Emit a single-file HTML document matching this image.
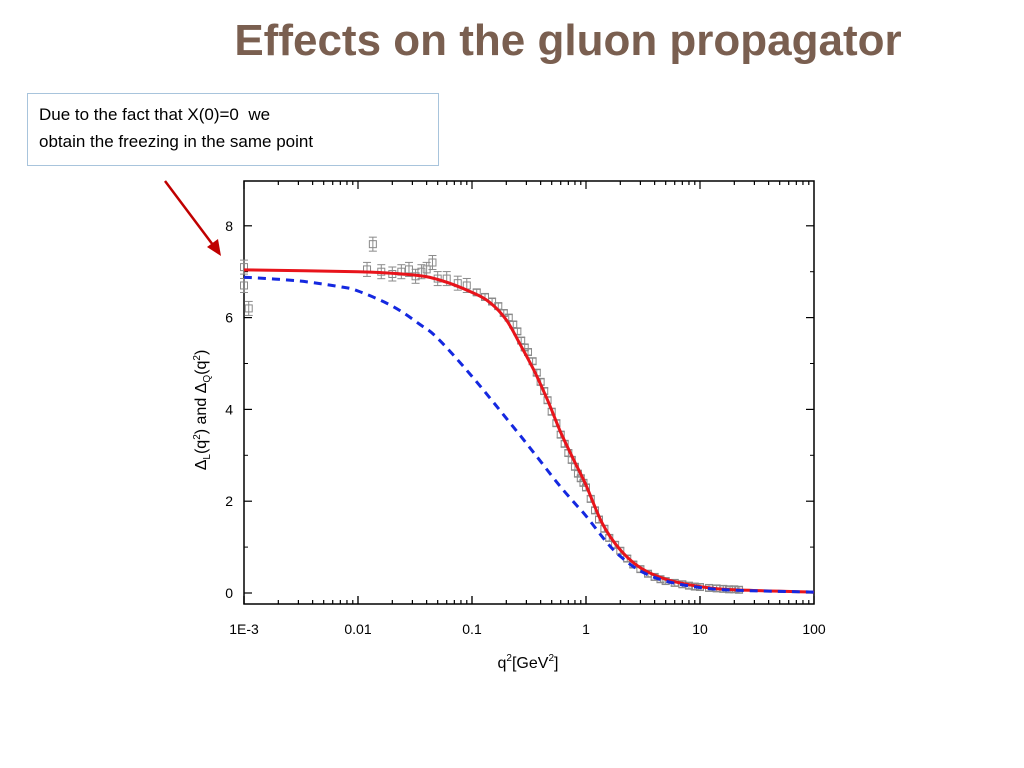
<!DOCTYPE html>
<html><head><meta charset="utf-8"><style>
body{margin:0;width:1024px;height:768px;background:#fff;position:relative;font-family:"Liberation Sans",sans-serif;overflow:hidden}
#title{position:absolute;left:0;width:1136px;top:16px;text-align:center;font-size:44px;font-weight:bold;color:#7a5f50}
#note{position:absolute;left:27px;top:93px;border:1px solid #a8c4dc;padding:7px 0 0 11px;font-size:17px;line-height:27px;color:#000;box-sizing:border-box;width:412px;height:73px}
</style></head><body>
<div id="title">Effects on the gluon propagator</div>
<div id="note">Due to the fact that X(0)=0&nbsp; we<br>obtain the freezing in the same point</div>
<svg id="chart" width="1024" height="768" style="position:absolute;left:0;top:0"></svg>
<script>
const redX=[0.001,0.01,0.03,0.052,0.1,0.145,0.2,0.26,0.35,0.46,0.6,0.78,1,1.4,2,3,5,10,20,100];
const redY=[7.04,7.0,6.93,6.82,6.55,6.32,5.95,5.45,4.85,4.2,3.5,2.9,2.35,1.5,0.94,0.55,0.3,0.14,0.07,0.02];
const blueX=[0.001,0.003,0.007,0.01,0.02,0.035,0.05,0.1,0.23,0.35,0.56,0.8,1,1.5,2,3,5,10,20,100];
const blueY=[6.88,6.8,6.67,6.58,6.25,5.85,5.55,4.72,3.62,3.05,2.4,1.95,1.68,1.12,0.8,0.48,0.26,0.12,0.06,0.02];
const dataX=[0.001,0.001,0.0011,0.012,0.0135,0.016,0.02,0.024,0.028,0.032,0.036,0.04,0.045,0.05,0.06,0.075,0.09,0.11,0.13,0.15,0.17,0.19,0.21,0.23,0.25,0.27,0.29,0.31,0.34,0.37,0.4,0.43,0.46,0.5,0.55,0.6,0.65,0.7,0.75,0.8,0.85,0.9,0.95,1,1.1,1.2,1.3,1.45,1.6,1.8,2,2.3,2.6,3,3.5,4,4.5,5,6,7,8,9,10,12,14,16,18,20,22];
const dataY=[7.1,6.7,6.2,7.05,7.6,7.0,6.95,7.0,7.05,6.9,7.0,7.05,7.2,6.85,6.85,6.75,6.7,6.55,6.45,6.35,6.25,6.1,6.0,5.85,5.7,5.5,5.35,5.25,5.05,4.8,4.6,4.4,4.2,3.95,3.7,3.45,3.25,3.05,2.9,2.75,2.6,2.5,2.4,2.3,2.05,1.8,1.6,1.4,1.2,1.05,0.92,0.75,0.62,0.52,0.42,0.35,0.3,0.26,0.22,0.19,0.16,0.14,0.13,0.11,0.1,0.09,0.08,0.08,0.07];
const xTicks=[0.001,0.01,0.1,1,10,100];
const xTickLabels=["1E-3","0.01","0.1","1","10","100"];
const yTicks=[0,2,4,6,8];

const L=244,R=814,T=181,B=604;
const sx=v=>L+(Math.log10(v)+3)/5*(R-L);
const sy=v=>593-v*45.9;
const svg=document.getElementById('chart');
const NS='http://www.w3.org/2000/svg';
function mk(t,a){const e=document.createElementNS(NS,t);for(const k in a)e.setAttribute(k,a[k]);svg.appendChild(e);return e;}
let e=mk('rect',{x:L,y:T,width:R-L,height:B-T,fill:'none',stroke:'#000','stroke-width':1.5});


for(let d=-3;d<2;d++){for(let m=1;m<10;m++){const v=m*Math.pow(10,d);const x=sx(v);const len=m==1?8:4;
mk('line',{x1:x,y1:B,x2:x,y2:B-len,stroke:'#000','stroke-width':1.2});mk('line',{x1:x,y1:T,x2:x,y2:T+len,stroke:'#000','stroke-width':1.2});}}
xTicks.forEach((v,i)=>{const x=sx(v);mk('line',{x1:x,y1:B,x2:x,y2:B-8,stroke:'#000','stroke-width':1.2});
const t=mk('text',{x:x,y:634,'font-size':14,'text-anchor':'middle'});t.textContent=xTickLabels[i];

});
yTicks.forEach(v=>{const y=sy(v);mk('line',{x1:L,y1:y,x2:L+8,y2:y,stroke:'#000','stroke-width':1.2});mk('line',{x1:R,y1:y,x2:R-8,y2:y,stroke:'#000','stroke-width':1.2});
if(v<8){const y2=sy(v+1);mk('line',{x1:L,y1:y2,x2:L+4,y2:y2,stroke:'#000'});mk('line',{x1:R,y1:y2,x2:R-4,y2:y2,stroke:'#000'});}
const t=mk('text',{x:233,y:y+5,'font-size':14,'text-anchor':'end'});t.textContent=v;

});
dataX.forEach((v,i)=>{const x=sx(v),y=sy(dataY[i]);const g=mk('g',{stroke:'#8a8a8a',fill:'none','stroke-width':1});


const er=v<0.1?7:3;
[['line',{x1:x,y1:y-er,x2:x,y2:y+er}],['line',{x1:x-4,y1:y-er,x2:x+4,y2:y-er}],['line',{x1:x-4,y1:y+er,x2:x+4,y2:y+er}],['rect',{x:x-3.5,y:y-3.5,width:7,height:7}]].forEach(([t,a])=>{const c=document.createElementNS(NS,t);for(const k in a)c.setAttribute(k,a[k]);g.appendChild(c);});});
function path(xs,ys){const p=xs.map((v,i)=>[sx(v),sy(ys[i])]);let d='M'+p[0][0].toFixed(1)+','+p[0][1].toFixed(1);
for(let i=0;i<p.length-1;i++){const p0=p[Math.max(0,i-1)],p1=p[i],p2=p[i+1],p3=p[Math.min(p.length-1,i+2)];
const c1=[p1[0]+(p2[0]-p0[0])/6,p1[1]+(p2[1]-p0[1])/6],c2=[p2[0]-(p3[0]-p1[0])/6,p2[1]-(p3[1]-p1[1])/6];
d+='C'+c1.map(n=>n.toFixed(1))+' '+c2.map(n=>n.toFixed(1))+' '+p2.map(n=>n.toFixed(1));}return d;}
e=mk('path',{d:path(redX,redY),fill:'none',stroke:'#e8141b','stroke-width':3,'stroke-linejoin':'round'});


e=mk('path',{d:path(blueX,blueY),fill:'none',stroke:'#1428e0','stroke-width':3,'stroke-dasharray':'8,6'});


e=mk('text',{x:0,y:0,'font-size':16,transform:'translate(206,410) rotate(-90)','text-anchor':'middle'});
e.innerHTML='Δ<tspan font-size="10" dy="4">L</tspan><tspan dy="-4">(q</tspan><tspan font-size="10" dy="-6">2</tspan><tspan dy="6">) and Δ</tspan><tspan font-size="10" dy="4">Q</tspan><tspan dy="-4">(q</tspan><tspan font-size="10" dy="-6">2</tspan><tspan dy="6">)</tspan>';


e=mk('text',{x:528,y:668,'font-size':16,'text-anchor':'middle'});
e.innerHTML='q<tspan font-size="10" dy="-7">2</tspan><tspan dy="7">[GeV</tspan><tspan font-size="10" dy="-7">2</tspan><tspan dy="7">]</tspan>';


e=mk('line',{x1:165,y1:181,x2:216,y2:249,stroke:'#c00000','stroke-width':2.5});


e=mk('polygon',{points:'221,256 207,247 218,239',fill:'#c00000'});


</script>
</body></html>
